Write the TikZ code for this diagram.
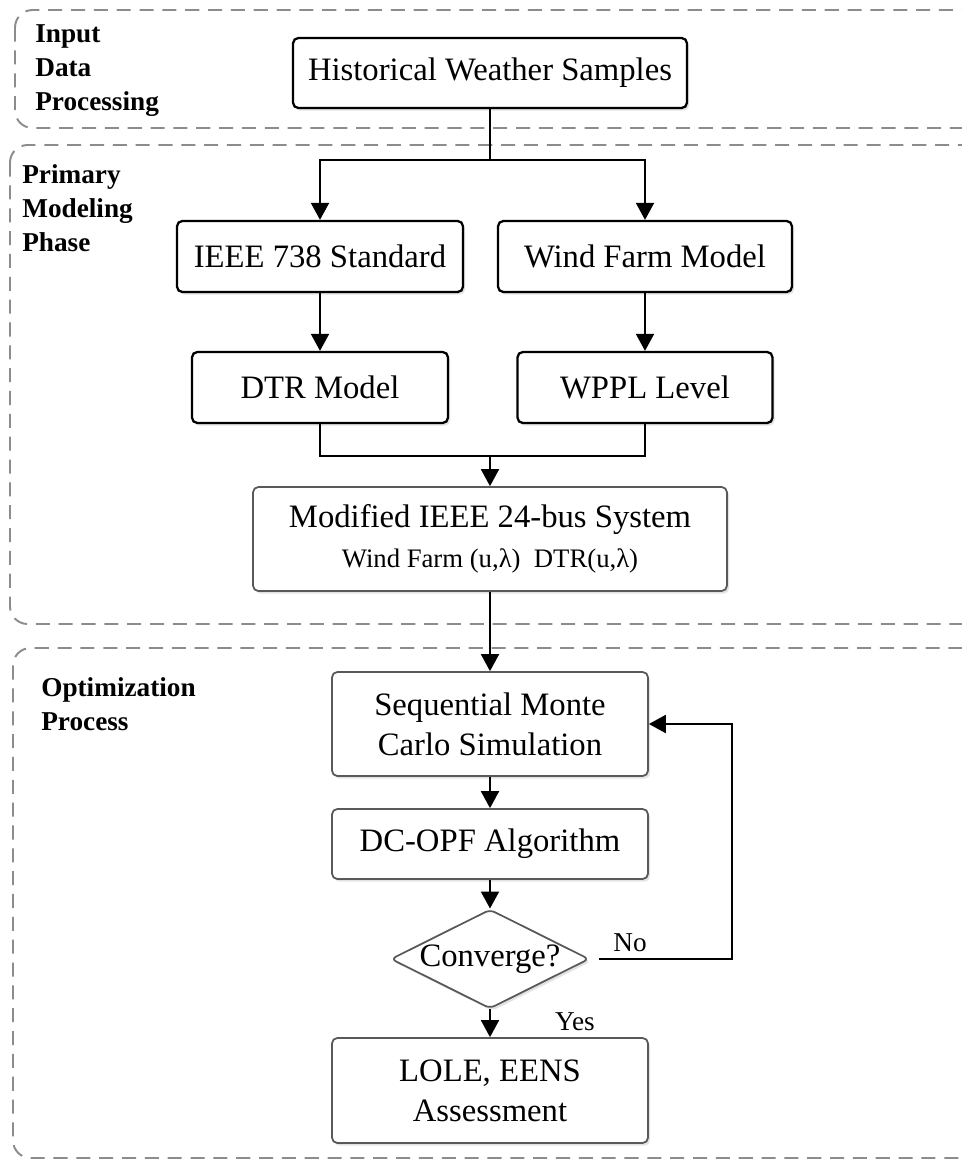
\documentclass[tikz,border=0pt]{standalone}
\usepackage{fontspec}
\setmainfont{Liberation Serif}
\usetikzlibrary{arrows.meta,shapes.geometric,shadows}

\tikzset{
  phase/.style={draw=black!45, line width=1.1pt, dash pattern=on 8pt off 5pt, rounded corners=10pt},
  phasetag/.style={anchor=north west, align=left, inner sep=0pt, font=\bfseries\fontsize{15.5}{19.3}\selectfont},
  blockbase/.style={rectangle, rounded corners=3pt, fill=white, align=center, inner sep=0pt,
    drop shadow={shadow xshift=1.2pt, shadow yshift=-1.5pt, opacity=0.22},
    font=\fontsize{18.6}{22.7}\selectfont},
  darkblock/.style={blockbase, draw=black, line width=1.3pt},
  greyblock/.style={blockbase, draw=black!65, line width=1pt},
  decision/.style={diamond, aspect=2, draw=black!65, line width=1pt, fill=white, rounded corners=3pt,
    inner sep=0pt, minimum width=3.6cm, minimum height=1.82cm, font=\fontsize{18.6}{22}\selectfont,
    drop shadow={shadow xshift=1.2pt, shadow yshift=-1.5pt, opacity=0.22}},
  wire/.style={line width=1.1pt},
  flow/.style={wire, -{Triangle[length=0.34cm, width=0.36cm]}},
  answer/.style={inner sep=0pt, font=\fontsize{15.5}{18}\selectfont}
}

\begin{document}
\begin{tikzpicture}[x=0.02cm, y=-0.02cm]
 \useasboundingbox (0,0) rectangle (961,1164);
 \fill[white] (0,0) rectangle (961,1164);

 % the three phases
 \draw[phase] (15,10) rectangle (980,128);
 \draw[phase] (10,145) rectangle (980,624);
 \draw[phase] (13,648) rectangle (980,1158);
 \node[phasetag] (tagin) at (35,24) {Input\\Data\\Processing};
 \node[phasetag] (tagprim) at (22,164) {Primary\\Modeling\\Phase};
 \node[phasetag] (tagopt) at (41,677) {Optimization\\Process};

 % blocks
 \node[darkblock, minimum width=7.88cm, minimum height=1.4cm] (hist) at (490,73) {Historical Weather Samples};
 \node[darkblock, minimum width=5.72cm, minimum height=1.42cm] (ieee) at (320,256.5) {IEEE 738 Standard};
 \node[darkblock, minimum width=5.88cm, minimum height=1.42cm] (wind) at (645,256.5) {Wind Farm Model};
 \node[darkblock, minimum width=5.12cm, minimum height=1.42cm] (dtr) at (320,387.5) {DTR Model};
 \node[darkblock, minimum width=5.1cm, minimum height=1.42cm] (wppl) at (645,387.5) {WPPL Level};
 \node[greyblock, minimum width=9.48cm, minimum height=2.08cm] (sys) at (490,539)
   {Modified IEEE 24-bus System\\[0pt]{\fontsize{15.2}{18}\selectfont Wind Farm (u,λ)\ \ DTR(u,λ)}};
 \node[greyblock, minimum width=6.32cm, minimum height=2.08cm] (smc) at (490,724) {Sequential Monte\\Carlo Simulation};
 \node[greyblock, minimum width=6.32cm, minimum height=1.4cm] (opf) at (490,844) {DC-OPF Algorithm};
 \node[decision] (conv) at (490,959) {Converge?};
 \node[greyblock, minimum width=6.32cm, minimum height=2.1cm] (lole) at (490,1090.5) {LOLE, EENS\\Assessment};

 % connectors
 \coordinate (split) at (490,160);
 \coordinate (merge) at (490,456);
 \coordinate (back) at (732,724);
 \draw[wire] (hist.south) -- (split);
 \draw[flow] (split) -| (ieee.north);
 \draw[flow] (split) -| (wind.north);
 \draw[flow] (ieee) -- (dtr);
 \draw[flow] (wind) -- (wppl);
 \draw[wire] (dtr.south) |- (merge);
 \draw[wire] (wppl.south) |- (merge);
 \draw[flow] (merge) -- (sys.north);
 \draw[flow] (sys) -- (smc);
 \draw[flow] (smc) -- (opf);
 \draw[flow] (opf) -- (conv);
 \draw[flow] (conv) -- (lole);
 \draw[flow, shorten <=0.18cm] (conv.east) -| (back) -- (smc.east);
 \node[answer] (no) at (630,943) {No};
 \node[answer] (yes) at (575,1022) {Yes};
\end{tikzpicture}
\end{document}
